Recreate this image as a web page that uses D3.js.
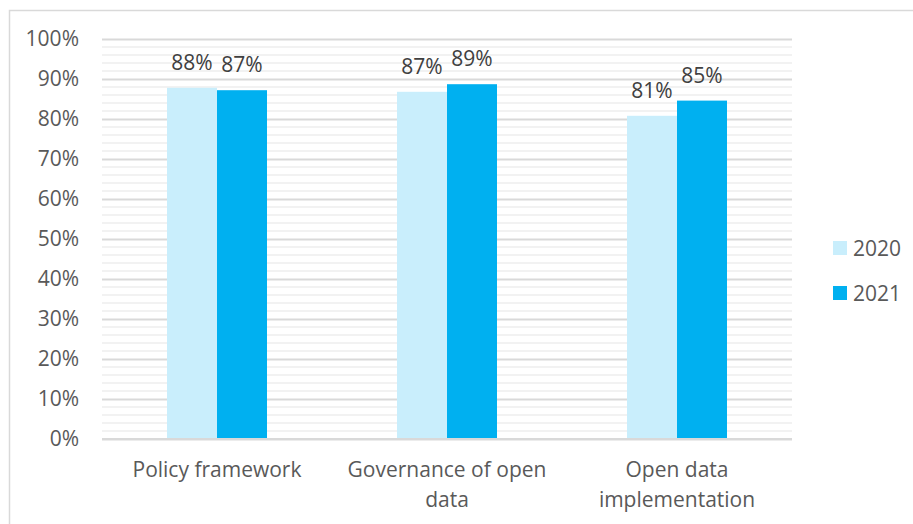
<!DOCTYPE html>
<html>
<head>
<meta charset="utf-8">
<script src="https://cdn.jsdelivr.net/npm/d3@7"></script>
<style>
  html, body { margin: 0; padding: 0; background: #ffffff; }
  svg { display: block; }
  text { font-family: "Open Sans", "Noto Sans", sans-serif; }
</style>
</head>
<body>
<svg id="chart" width="913" height="524"></svg>
<script>
// ---- data ----
const categories = [["Policy framework"], ["Governance of open", "data"], ["Open data", "implementation"]];
const seriesNames = ["2020", "2021"];
const values2020 = [0.878, 0.868, 0.808];
const values2021 = [0.872, 0.887, 0.846];
const yTicks = [0, 0.1, 0.2, 0.3, 0.4, 0.5, 0.6, 0.7, 0.8, 0.9, 1.0];
const colors = ["#C9EEFC", "#00B0F0"];

const svg = d3.select("#chart");
const plot = { left: 102, right: 792, top: 39, bottom: 439 };
const FS = 21;

// outer border (cropped at right/bottom)
svg.append("rect")
  .attr("x", 9.5).attr("y", 10.5)
  .attr("width", 920).attr("height", 530)
  .attr("fill", "none").attr("stroke", "#D9D9D9").attr("stroke-width", 1.5);

const catKeys = categories.map(c => c.join(" "));
const x0 = d3.scaleBand().domain(catKeys)
  .range([plot.left, plot.right])
  .paddingInner(0.5652).paddingOuter(0.2826);
const x1 = d3.scaleBand().domain(seriesNames).range([0, x0.bandwidth()]).padding(0);
const y = d3.scaleLinear().domain([0, 1]).range([plot.bottom, plot.top]);

// minor gridlines every 2%
const minor = d3.range(0, 101, 2).map(v => v / 100).filter(v => Math.round(v * 100) % 10 !== 0);
svg.append("g").selectAll("line").data(minor).join("line")
  .attr("x1", plot.left).attr("x2", plot.right)
  .attr("y1", d => y(d)).attr("y2", d => y(d))
  .attr("stroke", "#F2F2F2").attr("stroke-width", 2);

// major gridlines via axis
const yAxis = d3.axisLeft(y).tickValues(yTicks).tickFormat(d3.format(".0%"))
  .tickSize(-(plot.right - plot.left)).tickPadding(23);
const gy = svg.append("g").attr("transform", `translate(${plot.left},0)`).call(yAxis);
gy.select(".domain").remove();
gy.selectAll(".tick line").attr("stroke", "#D9D9D9").attr("stroke-width", 2);
gy.selectAll(".tick text").attr("fill", "#595959").attr("font-size", FS);

// bars
const rows = catKeys.map((k, i) => ({ key: k, vals: [values2020[i], values2021[i]] }));
const groups = svg.append("g").selectAll("g").data(rows).join("g")
  .attr("transform", d => `translate(${x0(d.key)},0)`);
groups.selectAll("rect").data(d => d.vals.map((v, j) => ({ s: seriesNames[j], v, j })))
  .join("rect")
  .attr("x", d => x1(d.s)).attr("width", x1.bandwidth())
  .attr("y", d => y(d.v)).attr("height", d => y(0) - y(d.v))
  .attr("fill", d => colors[d.j]);

// baseline
svg.append("line")
  .attr("x1", plot.left).attr("x2", plot.right)
  .attr("y1", y(0)).attr("y2", y(0))
  .attr("stroke", "#D9D9D9").attr("stroke-width", 2);

// data labels
groups.selectAll("text.lbl").data(d => d.vals.map((v, j) => ({ s: seriesNames[j], v, j })))
  .join("text").attr("class", "lbl")
  .attr("x", d => x1(d.s) + x1.bandwidth() / 2)
  .attr("y", d => y(d.v) - 18)
  .attr("text-anchor", "middle")
  .attr("fill", "#404040").attr("font-size", FS)
  .text(d => d3.format(".0%")(d.v));

// category labels
const xl = svg.append("g").selectAll("text").data(categories).join("text")
  .attr("x", (d, i) => x0(catKeys[i]) + x0.bandwidth() / 2)
  .attr("y", 477)
  .attr("text-anchor", "middle")
  .attr("fill", "#595959").attr("font-size", FS);
xl.selectAll("tspan").data(d => d).join("tspan")
  .attr("x", function() { return d3.select(this.parentNode).attr("x"); })
  .attr("dy", (d, i) => i === 0 ? 0 : 30)
  .text(d => d);

// legend
const lg = svg.append("g").selectAll("g").data(seriesNames).join("g")
  .attr("transform", (d, i) => `translate(833,${241 + i * 45})`);
lg.append("rect").attr("width", 14).attr("height", 14).attr("fill", (d, i) => colors[i]);
lg.append("text").attr("x", 20).attr("y", 14.5).attr("fill", "#595959").attr("font-size", FS).text(d => d);
</script>
</body>
</html>
